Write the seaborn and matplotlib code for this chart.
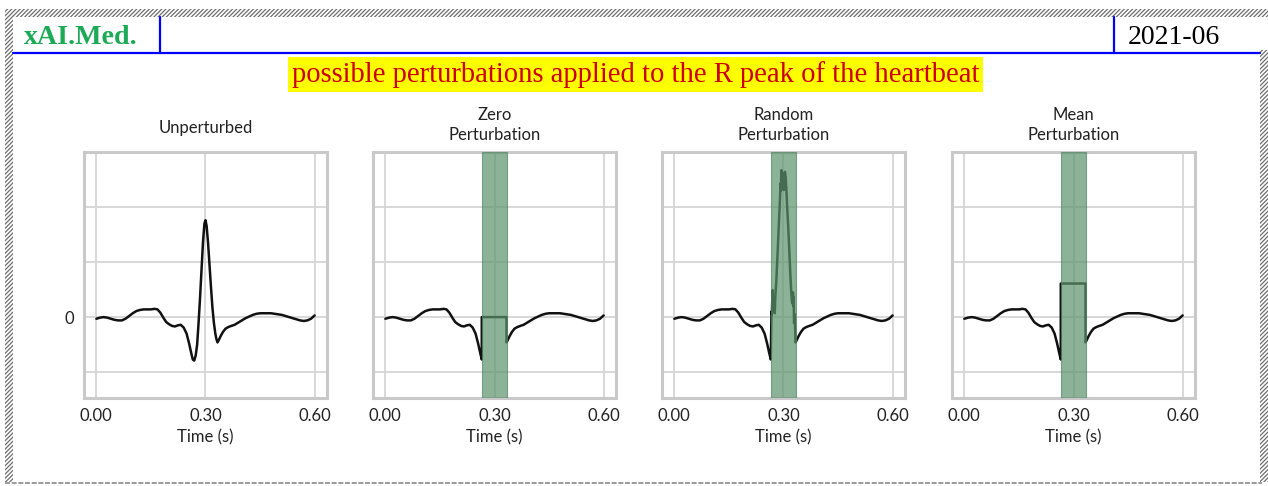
import numpy as np
import matplotlib
matplotlib.use("Agg")
import matplotlib.pyplot as plt
from matplotlib.patches import Rectangle
from matplotlib.lines import Line2D
import seaborn as sns

# One heartbeat (time in seconds, amplitude in grid units)
time_s = [0.000, 0.010, 0.020, 0.030, 0.040, 0.050, 0.060, 0.070, 0.080, 0.090,
          0.100, 0.110, 0.120, 0.130, 0.140, 0.150, 0.160, 0.168, 0.176, 0.184,
          0.192, 0.200, 0.208, 0.216, 0.224, 0.232, 0.240, 0.248, 0.255, 0.261,
          0.265, 0.269, 0.273, 0.277, 0.281, 0.285, 0.289, 0.293, 0.297, 0.300,
          0.303, 0.307, 0.311, 0.315, 0.319, 0.323, 0.327, 0.330, 0.333, 0.337,
          0.342, 0.348, 0.355, 0.363, 0.371, 0.380, 0.390, 0.400, 0.410, 0.420,
          0.430, 0.440, 0.450, 0.460, 0.470, 0.480, 0.490, 0.500, 0.510, 0.520,
          0.530, 0.540, 0.550, 0.560, 0.570, 0.580, 0.590, 0.600]
beat = [-0.03, -0.01, 0.00, -0.01, -0.03, -0.05, -0.06, -0.06, -0.03, 0.02,
        0.07, 0.11, 0.13, 0.14, 0.14, 0.14, 0.15, 0.14, 0.08, -0.01,
        -0.09, -0.13, -0.16, -0.17, -0.15, -0.14, -0.19, -0.30, -0.48, -0.66,
        -0.77, -0.79, -0.70, -0.50, -0.10, 0.35, 0.85, 1.35, 1.70, 1.76,
        1.66, 1.35, 0.95, 0.55, 0.18, -0.10, -0.30, -0.40, -0.46, -0.41,
        -0.34, -0.27, -0.21, -0.18, -0.16, -0.14, -0.10, -0.06, -0.02, 0.01,
        0.04, 0.06, 0.07, 0.07, 0.07, 0.07, 0.06, 0.05, 0.04, 0.02,
        0.00, -0.02, -0.04, -0.06, -0.07, -0.06, -0.03, 0.03]

# Perturbed window around the R peak
window = (0.265, 0.333)
mean_level = 0.61
random_t = [0.266, 0.267, 0.268, 0.270, 0.271, 0.273, 0.274, 0.276, 0.277, 0.278,
            0.280, 0.282, 0.284, 0.286, 0.288, 0.290, 0.292, 0.293, 0.294, 0.295,
            0.296, 0.297, 0.298, 0.299, 0.301, 0.302, 0.304, 0.305, 0.306, 0.307,
            0.308, 0.310, 0.313, 0.315, 0.317, 0.319, 0.321, 0.323, 0.324, 0.326,
            0.327, 0.328, 0.329, 0.331]
random_v = [-0.30, 0.10, 0.05, 0.49, 0.28, 0.19, 0.35, 0.07, 0.30, 0.43,
            0.62, 0.91, 1.20, 1.50, 1.80, 2.10, 2.43, 2.30, 2.67, 2.55,
            2.49, 2.60, 2.61, 2.40, 2.31, 2.45, 2.64, 2.58, 2.55, 2.40,
            2.31, 2.00, 1.64, 1.35, 1.04, 0.75, 0.49, 0.30, 0.25, 0.45,
            0.20, 0.37, -0.11, 0.05]

panel_titles = ["Unperturbed", "Zero\nPerturbation", "Random\nPerturbation", "Mean\nPerturbation"]
x_ticks = [0.0, 0.3, 0.6]
x_tick_labels = ["0.00", "0.30", "0.60"]
y_grid = [-1, 0, 1, 2, 3]
y_tick_labels = ["", "0", "", "", ""]
x_label = "Time (s)"
header_left = "xAI.Med."
header_right = "2021-06"
headline = "possible perturbations applied to the R peak of the heartbeat"

t = np.array(time_s)
v = np.array(beat)
before = t <= window[0]
after = t >= window[1]


def splice(seg_t, seg_v):
    return (np.concatenate([t[before], seg_t, t[after]]),
            np.concatenate([v[before], seg_v, v[after]]))


series = [
    (t, v, False),
    splice([window[0], window[1]], [0.0, 0.0]) + (True,),
    splice(random_t, random_v) + (True,),
    splice([window[0], window[1]], [mean_level, mean_level]) + (True,),
]

sns.set_theme(style="whitegrid")
plt.rcParams["font.family"] = ["Lato", "DejaVu Sans"]
plt.rcParams["hatch.linewidth"] = 0.9

W, H = 1268, 486
fig = plt.figure(figsize=(W / 100, H / 100), dpi=100)
fig.patch.set_facecolor("white")


def fx(x):
    return x / W


def fy(y):
    return 1 - y / H


panel_left_px = [84, 373, 662, 952]
panel_w_px = 243
top_px, bottom_px = 152, 398

for i, (xs, ys, shaded) in enumerate(series):
    ax = fig.add_axes([fx(panel_left_px[i]), fy(bottom_px),
                       panel_w_px / W, (bottom_px - top_px) / H])
    sns.lineplot(x=xs, y=ys, ax=ax, sort=False, estimator=None,
                 color="#111111", linewidth=1.8, zorder=3)
    if shaded:
        ax.axvspan(window[0], window[1], facecolor="#5c926d", alpha=0.7,
                   edgecolor="#4f8662", linewidth=0.8, zorder=4)
    ax.set_xlim(-0.034, 0.634)
    ax.set_ylim(-1.47, 3.0)
    ax.set_xticks(x_ticks)
    ax.set_xticklabels(x_tick_labels, fontsize=12, color="#222222")
    ax.set_yticks(y_grid)
    if i == 0:
        ax.set_yticklabels(y_tick_labels, fontsize=12, color="#222222")
    else:
        ax.set_yticklabels([""] * len(y_grid))
    ax.tick_params(length=0, pad=7)
    ax.set_xlabel(x_label, fontsize=12, color="#222222", labelpad=4)
    ax.set_ylabel("")
    ax.set_title(panel_titles[i], fontsize=12, color="#222222",
                 pad=14 if i == 0 else 9, linespacing=1.3)
    ax.grid(True, color="#d6d6d6", linewidth=1.3)
    ax.set_facecolor("white")
    for sp in ax.spines.values():
        sp.set_color("#c9c9c9")
        sp.set_linewidth(2.2)

# Page frame: hatched margins
hatch_kw = dict(transform=fig.transFigure, facecolor="white", edgecolor="#6e6e6e",
                hatch="////////", linewidth=0, zorder=0)
fig.add_artist(Rectangle((fx(5), fy(17)), fx(1263), 8 / H, **hatch_kw))
fig.add_artist(Rectangle((fx(5), fy(482)), fx(8), 465 / H, **hatch_kw))
fig.add_artist(Rectangle((fx(1260), fy(482)), fx(8), 432 / H, **hatch_kw))
fig.add_artist(Line2D([fx(5), fx(1262)], [fy(482.5), fy(482.5)], transform=fig.transFigure,
                      color="#8a8a8a", linewidth=1.2, linestyle=(0, (3, 1))))

# Header rules
blue = "#0000ff"
fig.add_artist(Line2D([fx(13), fx(1260)], [fy(53.3), fy(53.3)], transform=fig.transFigure,
                      color=blue, linewidth=1.6))
for xv in (160, 1114):
    fig.add_artist(Line2D([fx(xv), fx(xv)], [fy(17), fy(53.3)], transform=fig.transFigure,
                          color=blue, linewidth=1.6))

fig.text(fx(24), fy(44.5), header_left, fontsize=20.2, fontweight="bold",
         family="Liberation Serif", color="#1daa57", va="baseline", ha="left")
fig.text(fx(1128), fy(44.5), header_right, fontsize=20, family="Liberation Serif",
         color="black", va="baseline", ha="left")
fig.text(fx(635.5), fy(74.5), headline, fontsize=20.6, family="Liberation Serif",
         color="#cc0000", va="center", ha="center",
         bbox=dict(facecolor="#ffff00", edgecolor="none", boxstyle="square,pad=0.14"))

fig.savefig("out.png", dpi=100)
